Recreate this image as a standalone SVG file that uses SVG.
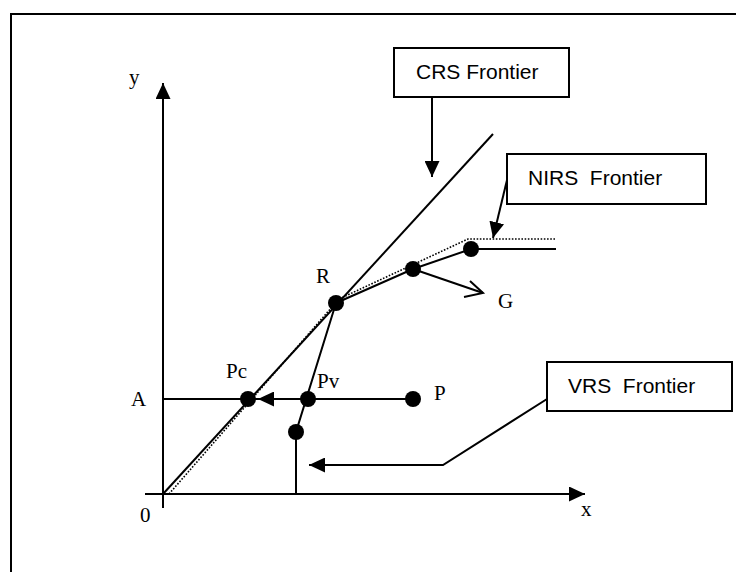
<svg xmlns="http://www.w3.org/2000/svg" width="736" height="572" viewBox="0 0 736 572">
<style>
.ln{stroke:#000;stroke-width:2;fill:none}
.dot{stroke:#000;stroke-width:1.6;stroke-dasharray:1.6,1.6;fill:none}
.pt{fill:#000}
.box{fill:#fff;stroke:#000;stroke-width:2}
.lbl{font-family:"Liberation Serif",serif;font-size:21px;fill:#000}
.btx{font-family:"Liberation Sans",Arial,sans-serif;font-size:21px;fill:#000}
</style>
<defs>
<marker id="ah" markerWidth="16" markerHeight="15" refX="16" refY="7.5" orient="auto" markerUnits="userSpaceOnUse">
<path d="M0,0 L16,7.5 L0,15 Z" fill="#000"/>
</marker>
</defs>
<rect width="736" height="572" fill="#fff"/>
<path class="ln" d="M11,572 V14 H736"/>
<g id="axes">
<line class="ln" x1="163" y1="508" x2="163" y2="83" marker-end="url(#ah)"/>
<line class="ln" x1="145" y1="494" x2="585" y2="494" marker-end="url(#ah)"/>
<text class="lbl" x="129" y="84">y</text>
<text class="lbl" x="581" y="516">x</text>
<text class="lbl" x="140" y="522">0</text>
<text class="lbl" x="131" y="406">A</text>
</g>
<g id="frontiers">
<line class="ln" x1="163" y1="494" x2="493" y2="134"/>
<polyline class="dot" points="169,494 339,299 468,239 556,239"/>
<polyline class="ln" points="336,303 413,269 471,249 556,249"/>
<polyline class="ln" points="296,494 296,432 336,303"/>
<line class="ln" x1="163" y1="399" x2="413" y2="399"/>
</g>
<g id="connectors">
<line class="ln" x1="308" y1="399" x2="258" y2="399" marker-end="url(#ah)"/>
<line class="ln" x1="413" y1="269" x2="483" y2="293"/>
<polyline class="ln" points="470,281 483,293 464,297"/>
<line class="ln" x1="432" y1="97" x2="432" y2="177" marker-end="url(#ah)"/>
<line class="ln" x1="507" y1="180" x2="493" y2="238" marker-end="url(#ah)"/>
<polyline class="ln" points="547,399 443,465 309,465" marker-end="url(#ah)"/>
</g>
<g id="points">
<circle class="pt" cx="336" cy="303" r="8"/>
<circle class="pt" cx="413" cy="269" r="8"/>
<circle class="pt" cx="471" cy="249" r="8"/>
<circle class="pt" cx="248" cy="399" r="8"/>
<circle class="pt" cx="308" cy="399" r="8"/>
<circle class="pt" cx="413" cy="399" r="8"/>
<circle class="pt" cx="296" cy="432" r="8"/>
<text class="lbl" x="316" y="283">R</text>
<text class="lbl" x="498" y="308">G</text>
<text class="lbl" x="226" y="378">Pc</text>
<text class="lbl" x="317" y="388">Pv</text>
<text class="lbl" x="434" y="400">P</text>
</g>
<g id="crs-box">
<rect class="box" x="394" y="48" width="175" height="49"/>
<text class="btx" x="416" y="79">CRS Frontier</text>
</g>
<g id="nirs-box">
<rect class="box" x="507" y="154" width="199" height="50"/>
<text class="btx" x="528" y="185" xml:space="preserve">NIRS  Frontier</text>
</g>
<g id="vrs-box">
<rect class="box" x="547" y="362" width="185" height="49"/>
<text class="btx" x="568" y="393" xml:space="preserve">VRS  Frontier</text>
</g>
</svg>
